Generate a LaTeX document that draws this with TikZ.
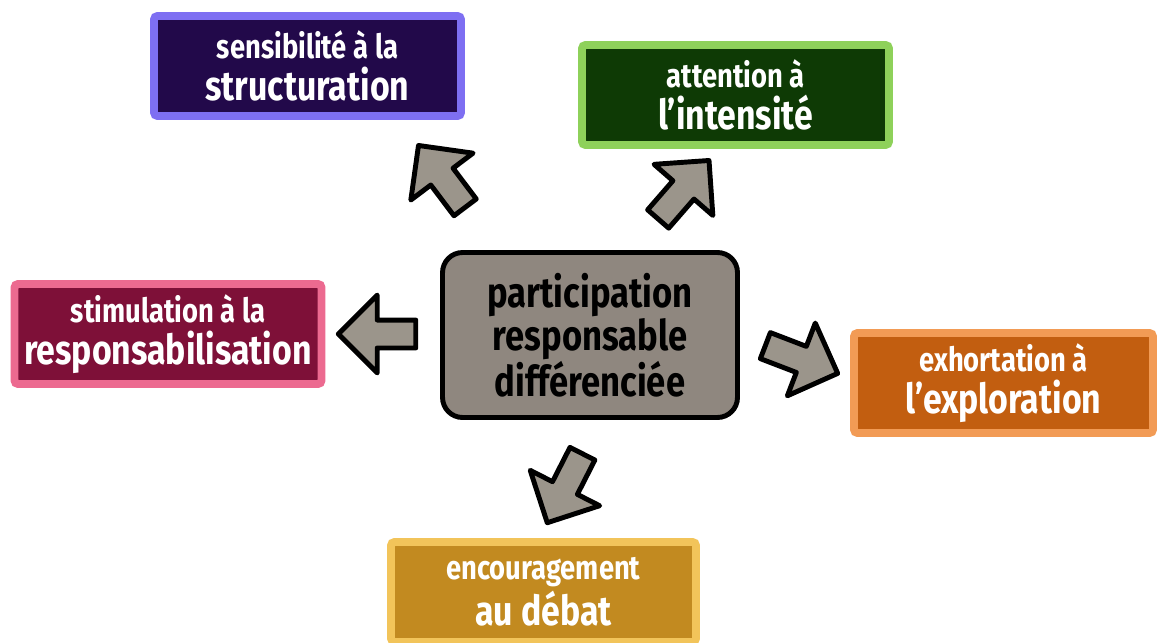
\documentclass[tikz,border=0pt]{standalone}
\usepackage{fontspec}
\newfontfamily\handfont{Fira Sans}[FakeStretch=0.82]
\usetikzlibrary{shapes.arrows}
\usepackage{xcolor}
\definecolor{PurpleFill}{HTML}{22094A}
\definecolor{PurpleEdge}{HTML}{7E6FF2}
\definecolor{GreenFill}{HTML}{0E3A05}
\definecolor{GreenEdge}{HTML}{8ED15A}
\definecolor{PinkFill}{HTML}{7E1038}
\definecolor{PinkEdge}{HTML}{EC6A90}
\definecolor{OrangeFill}{HTML}{C25E10}
\definecolor{OrangeEdge}{HTML}{F29B55}
\definecolor{GoldFill}{HTML}{C28A20}
\definecolor{GoldEdge}{HTML}{F2C45A}
\definecolor{CoreFill}{HTML}{8F877F}
\definecolor{ArrowGrey}{HTML}{9B958B}
\tikzset{
  tbox/.style 2 args={draw=#2, fill=#1, line width=4.5pt, rounded corners=2pt,
    align=center, text=white, inner sep=0pt, minimum width=6.14cm,
    minimum height=2.0cm, font=\handfont\bfseries\fontsize{23.5}{22}\selectfont},
  corebox/.style={draw=black, fill=CoreFill, line width=2.8pt, rounded corners=0.4cm,
    align=center, text=black, inner sep=0pt, minimum width=5.9cm,
    minimum height=3.3cm, font=\handfont\bfseries\fontsize{24}{23}\selectfont},
  barrow/.style={single arrow, draw=black, fill=ArrowGrey, line width=2.8pt,
    line join=round, minimum height=1.55cm, inner xsep=0pt, inner ysep=0.23cm,
    single arrow head extend=0.5cm},
}
\newcommand{\smallline}[1]{{\fontsize{19}{18}\selectfont #1}\\[1.5pt]}

\begin{document}
\begin{tikzpicture}[x=0.02cm, y=-0.02cm]
    \useasboundingbox (0,0) rectangle (1158,642);
    \node[corebox] (core) at (590,335) {participation\\responsable\\différenciée};
    \node[tbox={PurpleFill}{PurpleEdge}] (struct) at (307.5,66) {\smallline{sensibilité à la}structuration};
    \node[tbox={GreenFill}{GreenEdge}] (intens) at (735.5,95) {\smallline{attention à}l’intensité};
    \node[tbox={PinkFill}{PinkEdge}] (respons) at (168,334) {\smallline{stimulation à la}responsabilisation};
    \node[tbox={OrangeFill}{OrangeEdge}, minimum width=5.98cm] (explor) at (1003.5,383) {\smallline{exhortation à}l’exploration};
    \node[tbox={GoldFill}{GoldEdge}, minimum width=6.1cm] (debat) at (543.5,592) {\smallline{encouragement}au débat};
    % block arrows between the core and each box
    \node[barrow, rotate=127] (toStruct) at (446,182) {};
    \node[barrow, rotate=180] (toRespons) at (384,334) {};
    \node[barrow, rotate=49] (toIntens) at (679,195) {};
    \node[barrow, rotate=-21] (toExplor) at (795,357) {};
    \node[barrow, rotate=-117] (toDebat) at (568,482) {};
\end{tikzpicture}
\end{document}
